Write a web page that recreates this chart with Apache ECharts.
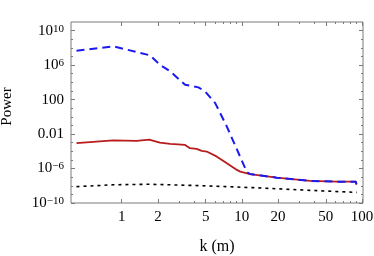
<!DOCTYPE html>
<html>
<head>
<meta charset="utf-8">
<script src="https://cdn.jsdelivr.net/npm/echarts@6/dist/echarts.min.js"></script>
<style>
  html, body { margin: 0; padding: 0; background: #fff; }
  #chart { width: 374px; height: 256px; }
</style>
</head>
<body>
<div id="chart"></div>
<script>
// ---- data ----
const kBlue   = [0.42, 0.85, 1.03, 1.72, 2.08, 2.53, 3.37, 4.35, 4.95, 6.0, 7.5, 11, 11.7, 19.5, 37, 61.6, 89, 90];
const powBlue = [4.7e7, 1.5e8, 7.9e7, 1.35e7, 1.1e6, 1.9e5, 5.2e3, 2.6e3, 870, 39, 7.4e-2, 4.0e-7, 2.3e-7, 8.7e-8, 3.6e-8, 3.0e-8, 3.0e-8, 1.3e-8];

const kRed   = [0.42, 0.85, 1.33, 1.69, 2.08, 2.53, 3.37, 3.7, 4.2, 4.64, 5.1, 6.2, 7.5, 9.1, 9.7, 11.7, 19.5, 37, 61.6, 89, 90];
const powRed = [8.7e-4, 1.8e-3, 1.6e-3, 2.3e-3, 1.0e-3, 7.2e-4, 5.5e-4, 2.3e-4, 1.9e-4, 1.1e-4, 9.3e-5, 2.4e-5, 4.2e-6, 6.9e-7, 4.4e-7, 2.3e-7, 8.7e-8, 3.6e-8, 3.0e-8, 3.0e-8, 1.3e-8];

const kBlack   = [0.42, 0.85, 1.72, 4.78, 12.5, 32.4, 90.6];
const powBlack = [7.9e-9, 1.3e-8, 1.5e-8, 1.0e-8, 6.0e-9, 3.2e-9, 1.7e-9];

const xTickValues = [1, 2, 5, 10, 20, 50, 100];
const xTickLabels = ['1', '2', '5', '10', '20', '50', '100'];
const xMinorTicks = [3, 4, 6, 7, 8, 9, 30, 40, 60, 70, 80, 90];

const yTickValues = [1e10, 1e6, 100, 0.01, 1e-6, 1e-10];
const yTickLabels = ['{b|10}{s|10}', '{b|10}{s|6}', '{b|100}', '{b|0.01}', '{b|10}{s|\u22126}', '{b|10}{s|\u221210}'];
const yMinorTicks = [1e9, 1e8, 1e7, 1e5, 1e4, 1e3, 10, 1, 0.1, 1e-3, 1e-4, 1e-5, 1e-7, 1e-8, 1e-9];

const X_MIN = 0.378, X_MAX = 102;
const Y_MIN = 1e-10, Y_MAX = 1e11;

// ---- helpers ----
const lg = Math.log10;
const FONT = 'Liberation Serif';
const AXC = '#7a7a7a';
function pick(values, labels) {
  return function (v) {
    for (let i = 0; i < values.length; i++) {
      if (Math.abs(lg(values[i]) - v) < 1e-6) return labels[i];
    }
    return '';
  };
}
function xVal(position, ticks, len, withLabels) {
  const a = {
    type: 'value', position: position, min: lg(X_MIN), max: lg(X_MAX),
    axisLine: { show: false, onZero: false }, splitLine: { show: false },
    axisTick: { show: true, inside: true, length: len, customValues: ticks.map(lg), lineStyle: { color: AXC, width: 1 } },
    axisLabel: { show: false }
  };
  if (withLabels) {
    a.axisLabel = {
      show: true, customValues: xTickValues.map(lg), formatter: pick(xTickValues, xTickLabels),
      fontFamily: FONT, fontSize: 15, color: '#000', margin: 7
    };
    a.name = 'k (m)';
    a.nameLocation = 'middle';
    a.nameGap = 36;
    a.nameTextStyle = { fontFamily: FONT, fontSize: 16, color: '#000' };
  }
  return a;
}
function yVal(position, ticks, len, withLabels) {
  const a = {
    type: 'value', position: position, min: lg(Y_MIN), max: lg(Y_MAX),
    axisLine: { show: false, onZero: false }, splitLine: { show: false },
    axisTick: { show: true, inside: true, length: len, customValues: ticks.map(lg), lineStyle: { color: AXC, width: 1 } },
    axisLabel: { show: false }
  };
  if (withLabels) {
    a.axisLabel = {
      show: true, customValues: yTickValues.map(lg), formatter: pick(yTickValues, yTickLabels),
      color: '#000', margin: 7,
      rich: {
        b: { fontFamily: FONT, fontSize: 15, lineHeight: 15, color: '#000', verticalAlign: 'bottom' },
        s: { fontFamily: FONT, fontSize: 11, lineHeight: 11, color: '#000', verticalAlign: 'top' }
      }
    };
    a.name = 'Power';
    a.nameLocation = 'middle';
    a.nameGap = 56;
    a.nameTextStyle = { fontFamily: FONT, fontSize: 15, color: '#000', padding: [0, 0, 0, 12] };
  }
  return a;
}
function zip(a, b) { return a.map((v, i) => [v, b[i]]); }

const chart = echarts.init(document.getElementById('chart'), null, { renderer: 'canvas' });
chart.setOption({
  animation: false,
  backgroundColor: '#fff',
  grid: {
    left: 71, right: 11, top: 22, bottom: 53, containLabel: false, outerBoundsMode: 'none',
    show: true, borderColor: AXC, borderWidth: 1, backgroundColor: 'transparent'
  },
  xAxis: [
    { type: 'log', logBase: 10, min: X_MIN, max: X_MAX, show: false },
    xVal('bottom', xTickValues, 4, true),
    xVal('bottom', xMinorTicks, 2, false),
    xVal('top', xTickValues, 4, false),
    xVal('top', xMinorTicks, 2, false)
  ],
  yAxis: [
    { type: 'log', logBase: 10, min: Y_MIN, max: Y_MAX, show: false },
    yVal('left', yTickValues, 4, true),
    yVal('left', yMinorTicks, 2, false),
    yVal('right', yTickValues, 4, false),
    yVal('right', yMinorTicks, 2, false)
  ],
  series: [
    {
      type: 'line', xAxisIndex: 0, yAxisIndex: 0, data: zip(kBlack, powBlack),
      showSymbol: false, symbol: 'none', silent: true,
      lineStyle: { color: '#000', width: 1.6, type: [3, 4] }
    },
    {
      type: 'line', xAxisIndex: 0, yAxisIndex: 0, data: zip(kRed, powRed),
      showSymbol: false, symbol: 'none', silent: true,
      lineStyle: { color: '#b81c1c', width: 1.8 }
    },
    {
      type: 'line', xAxisIndex: 0, yAxisIndex: 0, data: zip(kBlue, powBlue),
      showSymbol: false, symbol: 'none', silent: true,
      lineStyle: { color: '#1a1af0', width: 2, type: [8, 5] }
    }
  ]
});
</script>
</body>
</html>
